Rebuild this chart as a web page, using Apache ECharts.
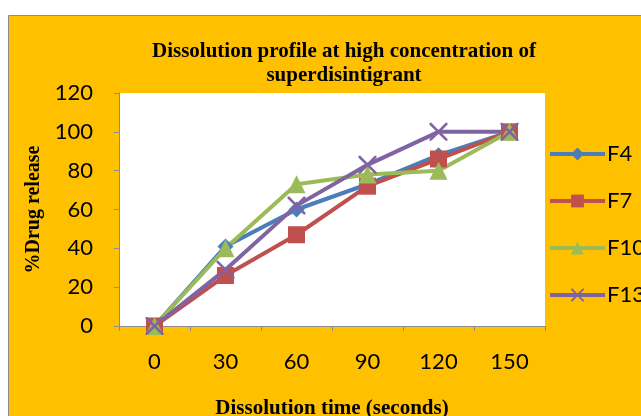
<!DOCTYPE html>
<html>
<head>
<meta charset="utf-8">
<script src="https://cdn.jsdelivr.net/npm/echarts@6/dist/echarts.min.js"></script>
<style>
  html, body { margin: 0; padding: 0; background: #ffffff; }
  #chart { width: 641px; height: 416px; }
</style>
</head>
<body>
<div id="chart"></div>
<script>
// Dissolution time points (seconds)
const timePoints = ['0', '30', '60', '90', '120', '150'];

// % drug release per formulation
const f4  = [0, 41, 60, 73, 88, 100];
const f7  = [0, 26, 47, 72, 86, 100];
const f10 = [0, 40, 73, 78, 80, 100];
const f13 = [0, 29, 62, 83, 100, 100];

const seriesNames = ['F4', 'F7', 'F10', 'F13'];
const yTicks = { min: 0, max: 120, step: 20 };

const crossPath = 'path://M0,0L2,0L10,8L18,0L20,0L20,2L12,10L20,18L20,20L18,20L10,12L2,20L0,20L0,18L8,10L0,2Z';

const chart = echarts.init(document.getElementById('chart'), null, { renderer: 'canvas' });

function lineSeries(name, data, color, symbol, size) {
  return {
    name: name,
    type: 'line',
    data: data,
    symbol: symbol,
    symbolSize: size,
    showAllSymbol: true,
    lineStyle: { color: color, width: 4 },
    itemStyle: { color: color, borderWidth: 0 },
    emphasis: { disabled: true },
    animation: false
  };
}

const option = {
  backgroundColor: '#ffffff',
  animation: false,
  graphic: [{
    type: 'rect',
    z: -10,
    shape: { x: 8.5, y: 15.5, width: 700, height: 500 },
    style: { fill: '#FFC000', stroke: '#8c8c8c', lineWidth: 1 }
  }],
  title: {
    text: 'Dissolution profile at high concentration of\nsuperdisintigrant',
    left: 339,
    textAlign: 'center',
    top: 35,
    textStyle: {
      fontFamily: 'Liberation Serif',
      fontWeight: 'bold',
      fontSize: 21,
      lineHeight: 24,
      color: '#000'
    }
  },
  legend: {
    orient: 'vertical',
    left: 543,
    top: 138,
    itemWidth: 55,
    itemHeight: 16,
    itemGap: 25,
    data: seriesNames,
    lineStyle: { width: 4 },
    textStyle: { fontFamily: 'Lato', fontSize: 22, lineHeight: 22, color: '#000', padding: [0, 0, 0, -3] }
  },
  grid: {
    left: 119,
    right: 96,
    top: 93,
    bottom: 90,
    show: true,
    backgroundColor: '#ffffff',
    borderWidth: 0,
    outerBoundsMode: 'none'
  },
  xAxis: {
    type: 'category',
    data: timePoints,
    boundaryGap: true,
    name: 'Dissolution time (seconds)',
    nameLocation: 'middle',
    nameGap: 72,
    nameTextStyle: {
      fontFamily: 'Liberation Serif',
      fontWeight: 'bold',
      fontSize: 21,
      color: '#000'
    },
    axisLine: { lineStyle: { color: '#8c8c8c', width: 1 } },
    axisTick: { show: true, length: 5, inside: false, lineStyle: { color: '#8c8c8c' } },
    axisLabel: { margin: 25, fontFamily: 'Lato', fontSize: 22, color: '#000' },
    splitLine: { show: false }
  },
  yAxis: {
    type: 'value',
    min: yTicks.min,
    max: yTicks.max,
    interval: yTicks.step,
    name: '%Drug release',
    nameLocation: 'middle',
    nameRotate: 90,
    nameGap: 72,
    nameTextStyle: {
      fontFamily: 'Liberation Serif',
      fontWeight: 'bold',
      fontSize: 20,
      color: '#000'
    },
    axisLine: { show: true, lineStyle: { color: '#8c8c8c', width: 1 } },
    axisTick: { show: true, length: 5, inside: false, lineStyle: { color: '#8c8c8c' } },
    axisLabel: { margin: 26, fontFamily: 'Lato', fontSize: 22, color: '#000' },
    splitLine: { show: false }
  },
  series: [
    lineSeries('F4', f4, '#4A7EBB', 'diamond', 16),
    lineSeries('F7', f7, '#C0504D', 'rect', 17),
    lineSeries('F10', f10, '#9BBB59', 'triangle', 18),
    lineSeries('F13', f13, '#8064A2', crossPath, 18)
  ]
};

chart.setOption(option);
</script>
</body>
</html>
